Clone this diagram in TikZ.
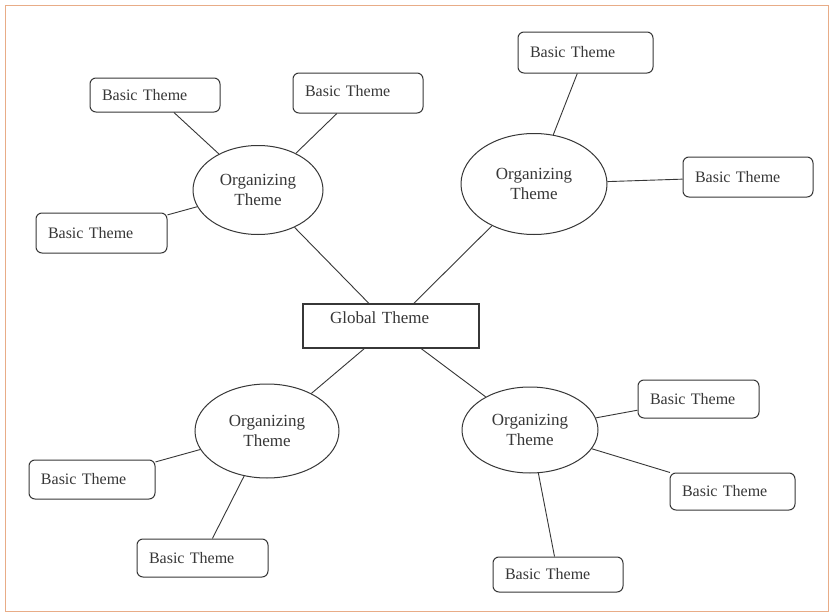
\documentclass[tikz,border=0pt]{standalone}
\usepackage{fontspec}
\setmainfont{Liberation Serif}
\usetikzlibrary{shapes.geometric}
\definecolor{frameorange}{RGB}{232,172,135}
\definecolor{ink}{RGB}{55,55,55}
\tikzset{
  basicbox/.style={draw=ink, line width=1pt, rounded corners=6pt, inner xsep=12pt, inner ysep=0pt,
    align=left, text=ink, font=\fontsize{16}{18}\selectfont},
  orgtheme/.style={ellipse, draw=ink, line width=1pt, inner sep=0pt, align=center, text=ink,
    font=\fontsize{17}{20}\selectfont},
  globalbox/.style={draw=ink, line width=1.6pt, inner xsep=27pt, inner ysep=0pt, align=left,
    text=ink, font=\fontsize{17}{20}\selectfont},
  link/.style={draw=ink, line width=0.9pt}
}
\begin{document}
\begin{tikzpicture}[x=1pt,y=-1pt]
\useasboundingbox (0,0) rectangle (831,613);
\fill[white] (0,0) rectangle (831,613);
\draw[frameorange, line width=0.9pt] (5,5) rectangle (828,611);

% global theme
\node[globalbox, text width=122pt, minimum height=44pt] (G) at (391,326)
  {\raisebox{3pt}[0pt][0pt]{Global Theme}};

% organizing themes
\node[orgtheme, minimum width=130pt, minimum height=89pt] (E1) at (258,190) {Organizing\\Theme};
\node[orgtheme, minimum width=146pt, minimum height=101pt] (E2) at (534,184) {Organizing\\Theme};
\node[orgtheme, minimum width=144pt, minimum height=94pt] (E3) at (267,431) {Organizing\\Theme};
\node[orgtheme, minimum width=136pt, minimum height=86pt] (E4) at (530,430) {Organizing\\Theme};

% basic themes
\node[basicbox, text width=106pt, minimum height=34pt] (B1) at (155,95) {Basic Theme};
\node[basicbox, text width=106pt, minimum height=40pt] (B2) at (358,93) {\raisebox{4pt}{Basic Theme}};
\node[basicbox, text width=107pt, minimum height=40pt] (B3) at (101.5,233) {Basic Theme};
\node[basicbox, text width=111pt, minimum height=41pt] (B4) at (585.5,52.5) {Basic Theme};
\node[basicbox, text width=106pt, minimum height=40pt] (B5) at (748,177) {Basic Theme};
\node[basicbox, text width=102pt, minimum height=39pt] (B6) at (92,479.5) {Basic Theme};
\node[basicbox, text width=107pt, minimum height=38pt] (B7) at (202.5,558) {Basic Theme};
\node[basicbox, text width=97pt, minimum height=38pt] (B8) at (698.5,399) {Basic Theme};
\node[basicbox, text width=101pt, minimum height=37pt] (B9) at (732.5,491.5) {Basic Theme};
\node[basicbox, text width=106pt, minimum height=35pt] (B10) at (558,574.5) {Basic Theme};

% connectors
\draw[link] (G) -- (E1);
\draw[link] (G) -- (E2);
\draw[link] (G) -- (E3);
\draw[link] (G) -- (E4);
\draw[link] (E1) -- (B1);
\draw[link] (E1) -- (B2);
\draw[link] (E1) -- (B3);
\draw[link] (E2) -- (B4);
\draw[link] (E2) -- (B5);
\draw[link] (E3) -- (B6);
\draw[link] (E3) -- (B7);
\draw[link] (E4) -- (B8);
\draw[link] (E4) -- (B9);
\draw[link] (E4) -- (B10);
\end{tikzpicture}
\end{document}
